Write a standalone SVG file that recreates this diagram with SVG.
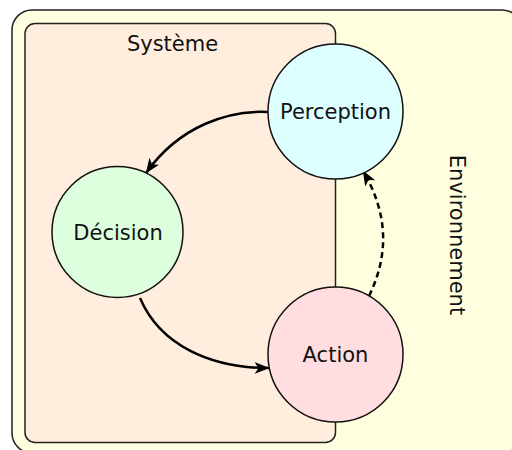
<svg xmlns="http://www.w3.org/2000/svg" width="512" height="450" viewBox="0 0 512 450">
  <defs>
    <style>
      .lbl { font-family: "DejaVu Sans", Verdana, sans-serif; font-size: 21px; fill: #111; text-anchor: middle; }
      .node { stroke: #111; stroke-width: 1.5; }
      .conn { fill: none; stroke: #000; stroke-width: 2.5; }
      .dash { stroke-dasharray: 6 4; }
    </style>
    <marker id="arr" markerUnits="userSpaceOnUse" viewBox="0 0 15 12" refX="14.5" refY="6" markerWidth="15" markerHeight="12" orient="auto">
      <path d="M0,0 L15,6 L0,12 L4,6 z" fill="#000"/>
    </marker>
  </defs>

  <g id="environnement">
    <rect x="12" y="10" width="510" height="443" rx="20" fill="#ffffdf" stroke="#222" stroke-width="1.5"/>
    <text class="lbl" transform="translate(449.5,235) rotate(90)">Environnement</text>
  </g>

  <g id="systeme">
    <rect x="25" y="23.5" width="310.5" height="419" rx="10" fill="#ffeedd" stroke="#222" stroke-width="1.5"/>
    <text class="lbl" x="172.5" y="51">Système</text>
  </g>

  <g id="connectors">
    <path class="conn" d="M268,112 C230,110 180,125 146,173" marker-end="url(#arr)"/>
    <path class="conn" d="M140,298 C160,345 210,368 269,368" marker-end="url(#arr)"/>
    <path class="conn dash" d="M369,296 Q400,233 363,171" marker-end="url(#arr)"/>
  </g>

  <g id="perception">
    <circle class="node" cx="335.5" cy="111.5" r="67.5" fill="#ddffff"/>
    <text class="lbl" x="335.5" y="119">Perception</text>
  </g>

  <g id="decision">
    <circle class="node" cx="117.5" cy="232" r="65.5" fill="#ddffdd"/>
    <text class="lbl" x="118" y="240">Décision</text>
  </g>

  <g id="action">
    <circle class="node" cx="335.5" cy="354.5" r="67.5" fill="#ffdde0"/>
    <text class="lbl" x="335.5" y="362">Action</text>
  </g>
</svg>
